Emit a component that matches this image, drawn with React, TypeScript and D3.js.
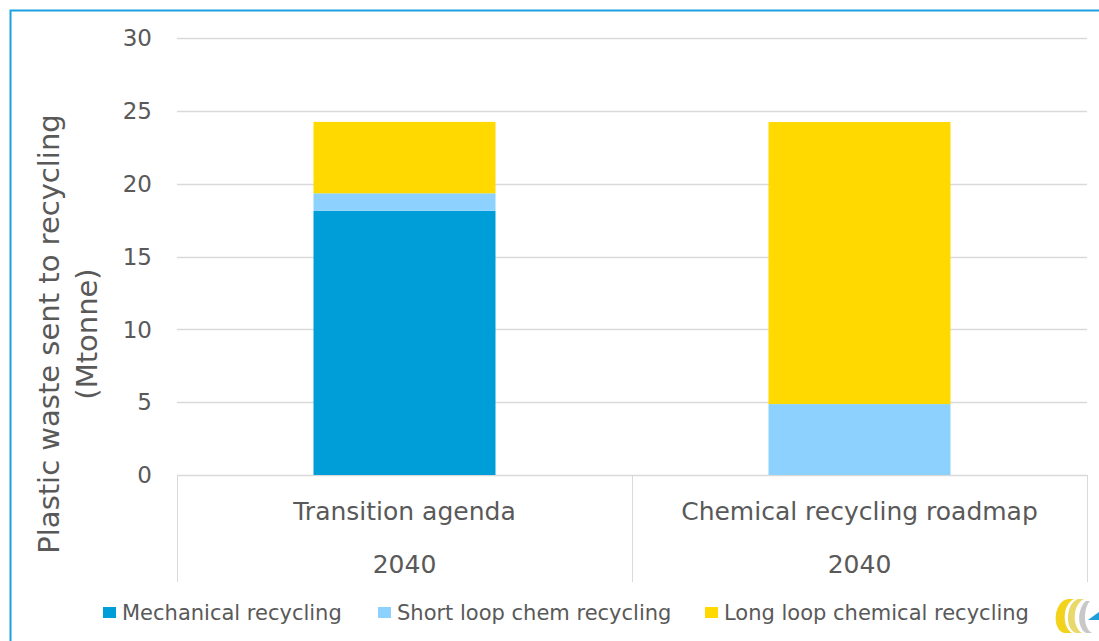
import React, { useEffect, useRef } from "react";
import * as d3 from "d3";

const categories = ["Transition agenda", "Chemical recycling roadmap"];
const years = ["2040", "2040"];
const seriesNames = [
  "Mechanical recycling",
  "Short loop chem recycling",
  "Long loop chemical recycling",
];
const mechanical = [18.14, 0];
const shortLoop = [1.2, 4.87];
const longLoop = [4.9, 19.36];
const yTicks = [0, 5, 10, 15, 20, 25, 30];
const colors = ["#009ED9", "#8DD2FF", "#FFD900"];

const FONT = "'DejaVu Sans', Verdana, sans-serif";
const TEXT = "#595959";

const App = () => {
  const svgRef = useRef(null);

  useEffect(() => {
    const W = 1099,
      H = 641;
    const margin = { top: 38, left: 177, right: 12, bottom: 166 };
    const width = W - margin.left - margin.right;
    const height = H - margin.top - margin.bottom;

    const svgAux = d3.select(svgRef.current);
    svgAux.selectAll("*").remove();
    const root = svgAux.attr("width", W).attr("height", H);

    root.append("rect").attr("width", W).attr("height", H).attr("fill", "#fff");

    // outer frame
    root
      .append("path")
      .attr("d", `M10.5,${H + 5} V10.5 H${W + 5}`)
      .attr("fill", "none")
      .attr("stroke", "#1BA1E2")
      .attr("stroke-width", 2);

    const svg = root
      .append("g")
      .attr("transform", `translate(${margin.left},${margin.top})`);

    const x = d3.scaleBand().domain(categories).range([0, width]).padding(0);
    const y = d3.scaleLinear().domain([0, 30]).range([height, 0]);

    // gridlines
    svg
      .append("g")
      .selectAll("line")
      .data(yTicks)
      .join("line")
      .attr("x1", 0)
      .attr("x2", width)
      .attr("y1", (d) => Math.round(y(d)) + 0.5)
      .attr("y2", (d) => Math.round(y(d)) + 0.5)
      .attr("stroke", "#D9D9D9")
      .attr("stroke-width", 1.5);

    // y tick labels
    svg
      .append("g")
      .selectAll("text")
      .data(yTicks)
      .join("text")
      .attr("x", -25)
      .attr("y", (d) => y(d))
      .attr("dy", "0.36em")
      .attr("text-anchor", "end")
      .attr("font-family", FONT)
      .attr("font-size", 23)
      .attr("fill", TEXT)
      .text((d) => d);

    // stacked bars
    const rows = categories.map((c, i) => ({
      cat: c,
      mech: mechanical[i],
      short: shortLoop[i],
      long: longLoop[i],
    }));
    const stack = d3.stack().keys(["mech", "short", "long"]);
    const layers = stack(rows);
    const barW = x.bandwidth() * 0.4;

    svg
      .append("g")
      .selectAll("g")
      .data(layers)
      .join("g")
      .attr("fill", (d, i) => colors[i])
      .selectAll("rect")
      .data((d) => d)
      .join("rect")
      .attr("x", (d) => x(d.data.cat) + (x.bandwidth() - barW) / 2)
      .attr("width", barW)
      .attr("y", (d) => y(d[1]))
      .attr("height", (d) => y(d[0]) - y(d[1]));

    // category axis lines
    const axisBottom = height + 107;
    const ax = svg.append("g").attr("stroke", "#D9D9D9").attr("stroke-width", 1);
    ax.append("line")
      .attr("x1", 0)
      .attr("x2", width)
      .attr("y1", height + 0.5)
      .attr("y2", height + 0.5);
    [0, x.bandwidth(), width].forEach((px) => {
      ax.append("line")
        .attr("x1", Math.round(px) + 0.5)
        .attr("x2", Math.round(px) + 0.5)
        .attr("y1", height)
        .attr("y2", axisBottom);
    });

    // category labels
    svg
      .append("g")
      .selectAll("text")
      .data(categories)
      .join("text")
      .attr("x", (d) => x(d) + x.bandwidth() / 2)
      .attr("y", height + 45)
      .attr("text-anchor", "middle")
      .attr("font-family", FONT)
      .attr("font-size", 25)
      .attr("fill", TEXT)
      .text((d) => d);

    svg
      .append("g")
      .selectAll("text")
      .data(years)
      .join("text")
      .attr("x", (d, i) => x(categories[i]) + x.bandwidth() / 2)
      .attr("y", height + 98)
      .attr("text-anchor", "middle")
      .attr("font-family", FONT)
      .attr("font-size", 25)
      .attr("fill", TEXT)
      .text((d) => d);

    // y axis title
    const title = root
      .append("text")
      .attr("transform", "translate(0,334) rotate(-90)")
      .attr("text-anchor", "middle")
      .attr("font-family", FONT)
      .attr("font-size", 29)
      .attr("fill", TEXT);
    title.append("tspan").attr("x", 0).attr("y", 59).text("Plastic waste sent to recycling");
    title.append("tspan").attr("x", 0).attr("y", 97).text("(Mtonne)");

    // legend
    const legendX = [103, 378, 705];
    const lg = root
      .append("g")
      .selectAll("g")
      .data(seriesNames)
      .join("g")
      .attr("transform", (d, i) => `translate(${legendX[i]},612)`);
    lg.append("rect")
      .attr("x", 0)
      .attr("y", -5)
      .attr("width", 13)
      .attr("height", 11)
      .attr("fill", (d, i) => colors[i]);
    lg.append("text")
      .attr("x", 19)
      .attr("dy", "0.36em")
      .attr("font-family", FONT)
      .attr("font-size", 21)
      .attr("fill", TEXT)
      .text((d) => d);

    // logo
    const logo = root.append("g").attr("transform", "translate(1054,599)");
    logo
      .append("path")
      .attr("d", "M14,0 C0,2 -3,30 10,34 L18,34 C8,28 8,6 20,0 Z")
      .attr("fill", "#F2D21B");
    logo
      .append("path")
      .attr("d", "M24,0 C12,4 10,30 22,34 L28,34 C18,28 18,6 30,0 Z")
      .attr("fill", "#E9D96A");
    logo
      .append("path")
      .attr("d", "M32,2 C24,8 22,28 32,34 L38,34 C28,28 30,8 36,2 Z")
      .attr("fill", "#C8C8C8");
    logo
      .append("path")
      .attr("d", "M34,21 L45,13 L45,21 Z")
      .attr("fill", "#1E9FD8");
  }, []);

  return (
    <svg
      ref={svgRef}
      style={{ position: "absolute", left: 0, top: 0, display: "block" }}
    ></svg>
  );
};

export default App;
